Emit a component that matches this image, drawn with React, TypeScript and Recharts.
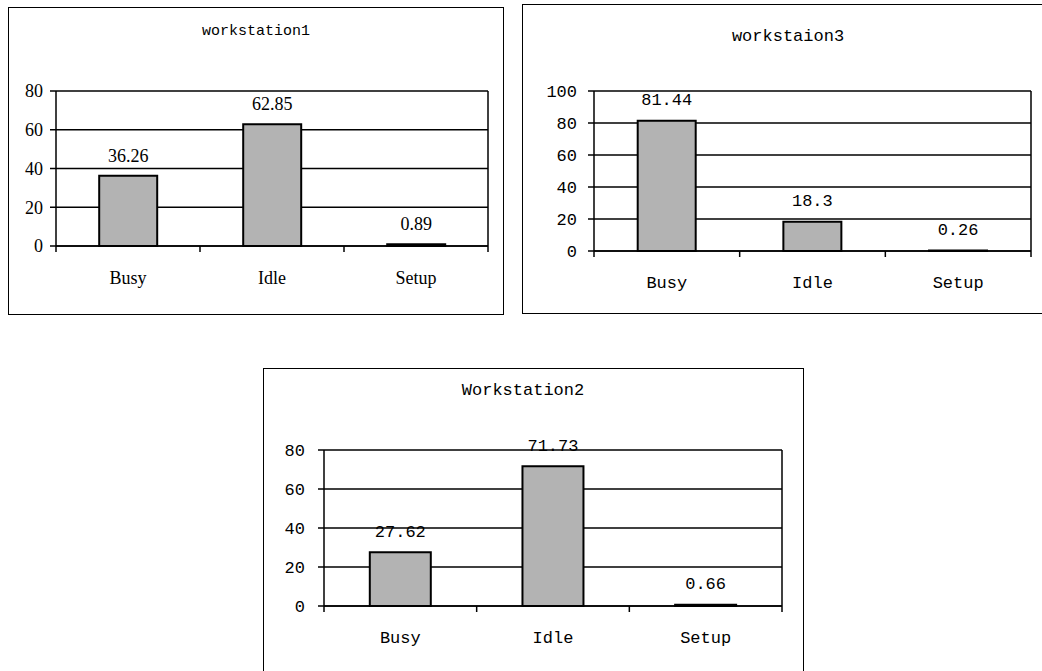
import { BarChart, Bar, XAxis, YAxis, CartesianGrid, LabelList } from 'recharts';

const CATEGORIES = ['Busy', 'Idle', 'Setup'];

const WS1_TITLE = 'workstation1';
const WS1_VALUES = [36.26, 62.85, 0.89];
const WS1_TICKS = [0, 20, 40, 60, 80];

const WS3_TITLE = 'workstaion3';
const WS3_VALUES = [81.44, 18.3, 0.26];
const WS3_TICKS = [0, 20, 40, 60, 80, 100];

const WS2_TITLE = 'Workstation2';
const WS2_VALUES = [27.62, 71.73, 0.66];
const WS2_TICKS = [0, 20, 40, 60, 80];

const INK = '#000';
const BAR_FILL = '#b3b3b3';
const MONO = '"Liberation Mono", "DejaVu Sans Mono", monospace';
const SERIF = '"Liberation Serif", "DejaVu Serif", serif';

interface Box { x: number; y: number; w: number; h: number }
interface Plot { left: number; top: number; right: number; bottom: number }

interface PanelProps {
  box: Box;
  plot: Plot;
  title: string;
  titleX: number;
  titleY: number;
  titleFont: string;
  titleSize: number;
  font: string;
  fontSize: number;
  values: number[];
  ticks: number[];
  yTickMargin: number;
}

const Y_AXIS_W = 40;
const X_AXIS_H = 40;

function Panel(p: PanelProps) {
  const data = CATEGORIES.map((name, i) => ({ name, value: p.values[i] }));
  const max = p.ticks[p.ticks.length - 1];
  const half = (p.plot.right - p.plot.left) / CATEGORIES.length / 2;
  const margin = {
    top: p.plot.top - p.box.y,
    left: p.plot.left - p.box.x - Y_AXIS_W,
    right: p.box.x + p.box.w - p.plot.right,
    bottom: p.box.y + p.box.h - p.plot.bottom - X_AXIS_H,
  };

  const categoryTick = (props: any) => {
    const { x, y, payload, index } = props;
    return (
      <g>
        <line x1={x - half} x2={x - half} y1={y} y2={y + 6} stroke={INK} strokeWidth={1.5} />
        {index === CATEGORIES.length - 1 && (
          <line x1={x + half} x2={x + half} y1={y} y2={y + 6} stroke={INK} strokeWidth={1.5} />
        )}
        <text x={x} y={y + 32} textAnchor="middle" dominantBaseline="central"
          fill={INK} fontFamily={p.font} fontSize={p.fontSize}>
          {payload.value}
        </text>
      </g>
    );
  };

  const valueLabel = (props: any) => {
    const x = Number(props.x);
    const y = Number(props.y);
    const w = Number(props.width);
    return (
      <text x={x + w / 2} y={y - 20} textAnchor="middle" dominantBaseline="central"
        fill={INK} fontFamily={p.font} fontSize={p.fontSize}>
        {props.value}
      </text>
    );
  };

  return (
    <>
      <div style={{
        position: 'absolute', left: p.box.x, top: p.box.y, width: p.box.w, height: p.box.h,
        border: `1px solid ${INK}`, boxSizing: 'border-box', background: '#fff',
      }} />
      <div style={{
        position: 'absolute', left: p.titleX - 200, top: p.titleY - 12, width: 400, height: 24,
        lineHeight: '24px', textAlign: 'center', fontFamily: p.titleFont, fontSize: p.titleSize, color: INK,
      }}>
        {p.title}
      </div>
      <div style={{ position: 'absolute', left: p.box.x, top: p.box.y }}>
        <BarChart width={p.box.w} height={p.box.h} data={data} margin={margin} barCategoryGap="30%">
          <CartesianGrid stroke={INK} strokeWidth={1.5}
            verticalCoordinatesGenerator={({ offset }: any) => [offset.left + offset.width]} />
          <XAxis dataKey="name" height={X_AXIS_H} interval={0} tickSize={0} tickMargin={0}
            tickLine={false} axisLine={{ stroke: INK, strokeWidth: 1.5 }} tick={categoryTick} />
          <YAxis type="number" domain={[0, max]} ticks={p.ticks} interval={0} width={Y_AXIS_W}
            tickSize={6} tickMargin={p.yTickMargin}
            axisLine={{ stroke: INK, strokeWidth: 1.5 }} tickLine={{ stroke: INK, strokeWidth: 1.5 }}
            tick={{ fill: INK, fontFamily: p.font, fontSize: p.fontSize }} />
          <Bar dataKey="value" fill={BAR_FILL} stroke={INK} strokeWidth={2} isAnimationActive={false}>
            <LabelList dataKey="value" content={valueLabel} />
          </Bar>
        </BarChart>
      </div>
    </>
  );
}

export default function App() {
  return (
    <div style={{
      position: 'absolute', left: 0, top: 0, width: 1042, height: 671,
      overflow: 'hidden', background: '#fff',
    }}>
      <Panel
        box={{ x: 8, y: 7, w: 496, h: 308 }}
        plot={{ left: 56, top: 91, right: 488, bottom: 246 }}
        title={WS1_TITLE} titleX={256} titleY={32} titleFont={MONO} titleSize={15}
        font={SERIF} fontSize={18} values={WS1_VALUES} ticks={WS1_TICKS} yTickMargin={7}
      />
      <Panel
        box={{ x: 522, y: 4, w: 530, h: 310 }}
        plot={{ left: 594, top: 91, right: 1031, bottom: 251 }}
        title={WS3_TITLE} titleX={788} titleY={37} titleFont={MONO} titleSize={17}
        font={MONO} fontSize={17} values={WS3_VALUES} ticks={WS3_TICKS} yTickMargin={11}
      />
      <Panel
        box={{ x: 263, y: 368, w: 541, h: 320 }}
        plot={{ left: 324, top: 450, right: 782, bottom: 606 }}
        title={WS2_TITLE} titleX={523} titleY={391} titleFont={MONO} titleSize={17}
        font={MONO} fontSize={17} values={WS2_VALUES} ticks={WS2_TICKS} yTickMargin={13}
      />
    </div>
  );
}
